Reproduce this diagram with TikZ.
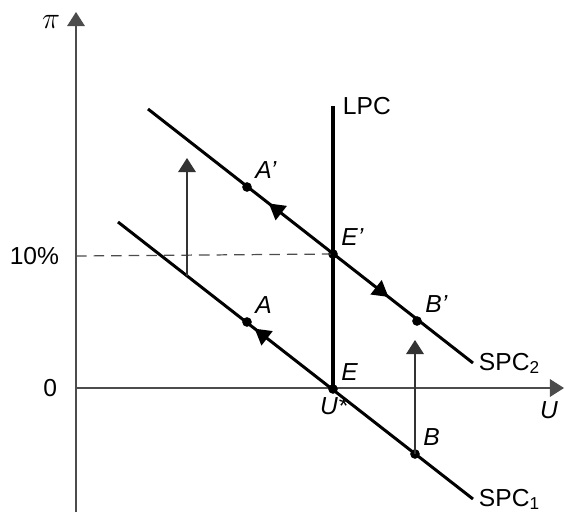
\documentclass[tikz,border=0pt]{standalone}
\usepackage{fontspec}
\setmainfont{Liberation Sans}
\usetikzlibrary{
    arrows.meta,
    decorations,
    decorations.markings,
    positioning
}
\tikzset{
  every node/.style={
    font=\fontsize{14}{16}\selectfont,
    inner sep=1.5pt
  },
  axis/.style={
    draw=black!70,
    line width=0.8pt,
    -{Triangle[width=10pt,length=8pt]}
  },
  curve/.style={
    black,
    line width=1.7pt
  },
  lpc/.style={
    black,
    line width=2.4pt
  },
  shift arrow/.style={
    draw=black!80,
    line width=0.9pt,
    -{Triangle[width=10pt,length=8pt]}
  },
  dot/.style={
    circle,
    fill=black,
    inner sep=0pt,
    minimum size=5.5pt
  },
  lbl/.style={
    font=\fontsize{14}{16}\selectfont\itshape
  },
  tick/.style={
    font=\fontsize{14}{16}\selectfont,
    anchor=east
  }
}

\begin{document}
\begin{tikzpicture}[x=0.02cm,y=-0.02cm,>={Triangle[width=10pt,length=9pt]}]
    \useasboundingbox (0,0) rectangle (565,512);

    % 座標軸
    \coordinate (ybot) at (76,512);
    \coordinate (ytop) at (76,12);
    \coordinate (xleft) at (76,388);
    \coordinate (xright) at (564,388);
    \draw[axis] (ybot) -- (ytop);
    \draw[axis] (xleft) -- (xright);
    \node[font=\fontsize{17}{19}\selectfont] (pi) at (51,22) {$\pi$};
    \node (uax) at (549,410) {\itshape U};
    \node[tick] (zero) at (60,388) {0};
    \node[tick] (ten) at (62,256) {10\%};

    % 点
    \node[dot] (E) at (333,389) {};
    \node[dot] (Ep) at (333,254) {};
    \node[dot] (A) at (247,322) {};
    \node[dot] (B) at (415,454) {};
    \node[dot] (Ap) at (247,187) {};
    \node[dot] (Bp) at (417,321) {};

    % 10% の破線
    \draw[black!70,line width=0.7pt,dash pattern=on 6pt off 4pt] (ten.east -| xleft) -- (Ep.center);

    % 長期フィリップス曲線
    \coordinate (lpctop) at (333,106);
    \draw[lpc] (E.center) -- (lpctop);
    \node[anchor=west] (lpclbl) at (340,106) {LPC};

    % 短期フィリップス曲線
    \coordinate (s1a) at (118,222);
    \coordinate (s1b) at (473,499);
    \coordinate (s2a) at (148,109);
    \coordinate (s2b) at (473,363);
    \draw[curve,postaction={decorate},
        decoration={markings, mark=at position 0.42 with {\arrow{<}}}]
        (s1a) -- (s1b);
    \draw[curve,postaction={decorate},
        decoration={markings,
            mark=at position 0.41 with {\arrow{<}},
            mark=at position 0.74 with {\arrow{>}}}]
        (s2a) -- (s2b);
    \node[anchor=north west] (spc1) at (476,486) {SPC\textsubscript{1}};
    \node[anchor=north west] (spc2) at (476,350) {SPC\textsubscript{2}};

    % 上方シフトの矢印
    \coordinate (up1a) at (187,276);
    \coordinate (up1b) at (187,158);
    \coordinate (up2b) at (415,340);
    \draw[shift arrow] (up1a) -- (up1b);
    \draw[shift arrow] (B.center) -- (up2b);

    % ラベル
    \node[lbl,above right=1pt and 1pt of Ap] (Aplbl) {A'};
    \node[lbl,above right=1pt and 1pt of Ep] (Eplbl) {E'};
    \node[lbl,above right=1pt and 1pt of Bp] (Bplbl) {B'};
    \node[lbl,above right=1pt and 1pt of A] (Albl) {A};
    \node[lbl,above right=1pt and 1pt of E] (Elbl) {E};
    \node[lbl,above right=1pt and 1pt of B] (Blbl) {B};
    \node[lbl,below left=1pt and -12pt of E] (ustar) {U*};
\end{tikzpicture}
\end{document}
